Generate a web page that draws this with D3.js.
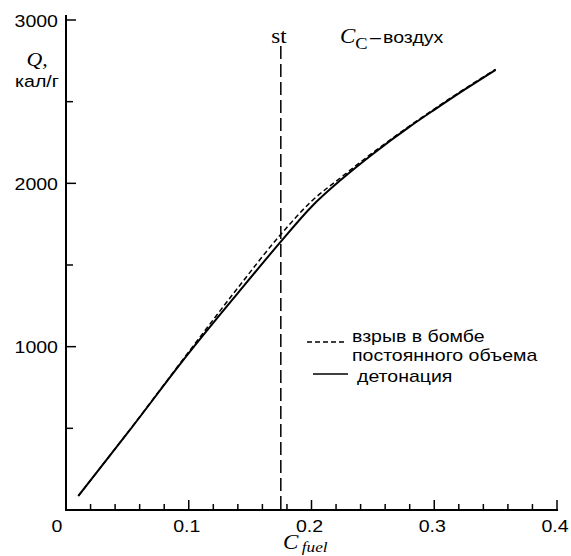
<!DOCTYPE html>
<html><head><meta charset="utf-8">
<script src="https://cdn.jsdelivr.net/npm/d3@7"></script>
<style>body{margin:0;background:#fff}</style>
</head><body>
<svg id="c" width="571" height="556"></svg>
<script>
const cFuel = [0.01, 0.05, 0.10, 0.14, 0.175, 0.20, 0.225, 0.25, 0.28, 0.30, 0.325, 0.35];
const qDetonation = [86, 470, 960, 1328, 1643, 1857, 2028, 2180, 2347, 2450, 2575, 2695];
const qBomb = [86, 472, 968, 1360, 1688, 1890, 2042, 2188, 2352, 2455, 2580, 2698];
const xTickValues = [0, 0.1, 0.2, 0.3, 0.4];
const xTickLabels = ["0", "0.1", "0.2", "0.3", "0.4"];
const xMinorValues = [0.02,0.04,0.06,0.08,0.12,0.14,0.16,0.18,0.22,0.24,0.26,0.28,0.32,0.34,0.36,0.38];
const yTickValues = [1000, 2000, 3000];
const yTickLabels = ["1000", "2000", "3000"];
const yMinorValues = [500, 1500, 2500];
const stValue = 0.175;

const svg = d3.select("#c");
const x = d3.scaleLinear().domain([0, 0.4]).range([66, 557]);
const y = d3.scaleLinear().domain([0, 3000]).range([510, 20]);
const SX = 1.15;
const sans = "'Liberation Sans', Arial, sans-serif";
const serif = "'Liberation Serif', 'Times New Roman', serif";

function txt(px, py, anchor, size, family, sx) {
  return svg.append("text")
    .attr("transform", `translate(${px},${py}) scale(${sx || SX},1)`)
    .attr("text-anchor", anchor)
    .attr("font-size", size)
    .attr("font-family", family)
    .attr("fill", "#000");
}

// axes lines
svg.append("line").attr("x1", x(0)).attr("x2", x(0)).attr("y1", 15).attr("y2", y(0))
  .attr("stroke", "#000").attr("stroke-width", 2);
svg.append("line").attr("x1", x(0) - 1).attr("x2", x(0.4) + 1).attr("y1", y(0)).attr("y2", y(0))
  .attr("stroke", "#000").attr("stroke-width", 2);

// x ticks
xTickValues.forEach((v, i) => {
  svg.append("line").attr("x1", x(v)).attr("x2", x(v)).attr("y1", y(0)).attr("y2", y(0) - 10)
    .attr("stroke", "#000").attr("stroke-width", 1.5);
  txt(x(v) + (i === 0 ? -9 : -2), 532, "middle", 17, sans).text(xTickLabels[i]);
});
xMinorValues.forEach(v => {
  svg.append("line").attr("x1", x(v)).attr("x2", x(v)).attr("y1", y(0)).attr("y2", y(0) - 6)
    .attr("stroke", "#000").attr("stroke-width", 1.5);
});
// y ticks
yTickValues.forEach((v, i) => {
  svg.append("line").attr("x1", x(0)).attr("x2", x(0) + 10).attr("y1", y(v)).attr("y2", y(v))
    .attr("stroke", "#000").attr("stroke-width", 1.5);
  txt(58, y(v) + 6.5, "end", 17, sans).text(yTickLabels[i]);
});
yMinorValues.forEach(v => {
  svg.append("line").attr("x1", x(0)).attr("x2", x(0) + 7).attr("y1", y(v)).attr("y2", y(v))
    .attr("stroke", "#000").attr("stroke-width", 1.5);
});

// st line
svg.append("line").attr("x1", x(stValue)).attr("x2", x(stValue)).attr("y1", 46).attr("y2", y(0))
  .attr("stroke", "#000").attr("stroke-width", 1.5).attr("stroke-dasharray", "13,5");

// curves
const pts = q => cFuel.map((c, i) => [c, q[i]]);
const line = d3.line().x(d => x(d[0])).y(d => y(d[1])).curve(d3.curveMonotoneX);
svg.append("path").attr("d", line(pts(qBomb))).attr("fill", "none")
  .attr("stroke", "#000").attr("stroke-width", 1.5).attr("stroke-dasharray", "5,3");
svg.append("path").attr("d", line(pts(qDetonation))).attr("fill", "none")
  .attr("stroke", "#000").attr("stroke-width", 2);

// labels
txt(37, 66, "middle", 19, serif).attr("font-style", "italic").text("Q,");
txt(37, 87, "middle", 17, sans).text("кал/г");
txt(279, 43, "middle", 20, serif).text("st");
const cc = txt(340, 43, "start", 20, serif);
cc.append("tspan").attr("font-style", "italic").text("C");
cc.append("tspan").attr("font-size", 16).attr("dy", 6).text("C");
cc.append("tspan").attr("dy", -6).attr("dx", 2).attr("font-size", 17).attr("font-family", sans).text("–");
cc.append("tspan").attr("dx", 2).attr("font-size", 17).attr("font-family", sans).text("воздух");

const xt = txt(283, 549, "start", 20, serif).attr("font-style", "italic");
xt.append("tspan").text("C");
xt.append("tspan").attr("font-size", 15).attr("dx", 3).attr("dy", 3).text("fuel");

// legend
svg.append("line").attr("x1", 307).attr("x2", 345).attr("y1", 342).attr("y2", 342)
  .attr("stroke", "#000").attr("stroke-width", 1.5).attr("stroke-dasharray", "5,3");
txt(352, 342, "start", 16, sans, 1.22).text("взрыв в бомбе");
txt(352, 361, "start", 16, sans, 1.22).text("постоянного объема");
svg.append("line").attr("x1", 313).attr("x2", 348).attr("y1", 374).attr("y2", 374)
  .attr("stroke", "#000").attr("stroke-width", 1.5);
txt(357, 382, "start", 16, sans, 1.22).text("детонация");
</script>
</body></html>
